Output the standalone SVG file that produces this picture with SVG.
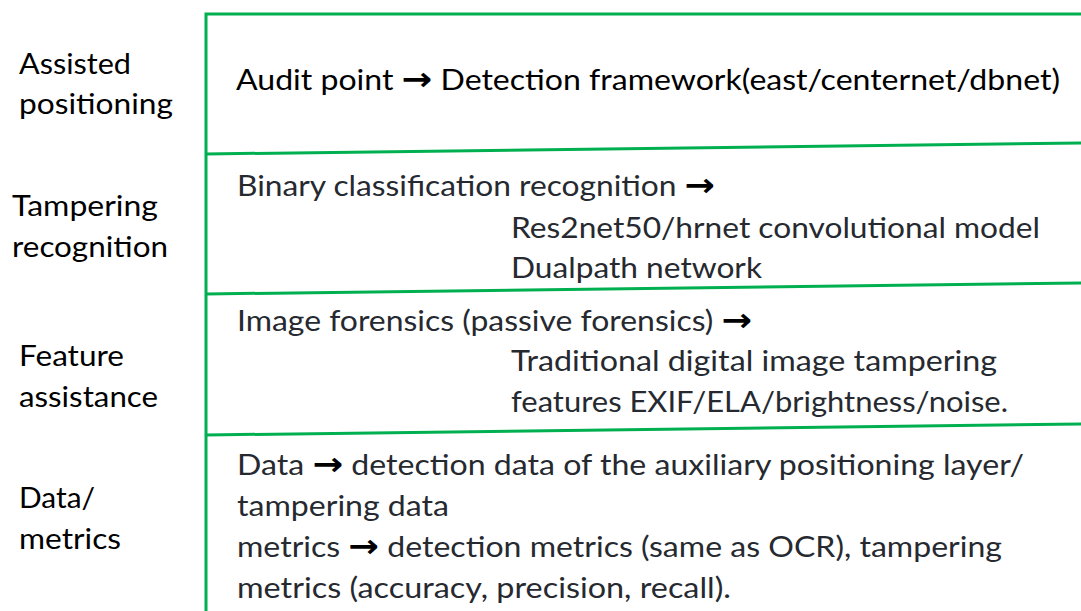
<svg xmlns="http://www.w3.org/2000/svg" width="1081" height="611" viewBox="0 0 1081 611">
<style>
text{font-family:Lato,"Liberation Sans",sans-serif;font-size:28px;}
.lab{fill:#000;}
.txt{fill:#262a30;}
.ar{fill:#000;font-family:"DejaVu Sans",sans-serif;font-weight:bold;font-size:32px;}
.ln{stroke:#00b050;stroke-width:3;fill:none;}
</style>
<rect width="1081" height="611" fill="#fff"/>
<g id="connectors">
<path class="ln" d="M206,611 V14 H1081"/>
<line class="ln" x1="206" y1="154" x2="1081" y2="143"/>
<line class="ln" x1="206" y1="294" x2="1081" y2="283"/>
<line class="ln" x1="206" y1="435" x2="1081" y2="424"/>
</g>
<g id="row-assisted">
<text class="lab" x="19" y="74" textLength="112" lengthAdjust="spacingAndGlyphs">Assisted</text>
<text class="lab" x="19" y="114" textLength="154" lengthAdjust="spacingAndGlyphs">positioning</text>
<text class="lab" x="236" y="90" textLength="824" lengthAdjust="spacingAndGlyphs">Audit point <tspan class="ar">→</tspan> Detection framework(east/centernet/dbnet)</text>
</g>
<g id="row-tampering">
<text class="lab" x="12" y="216" textLength="146" lengthAdjust="spacingAndGlyphs">Tampering</text>
<text class="lab" x="12" y="257" textLength="156" lengthAdjust="spacingAndGlyphs">recognition</text>
<text class="txt" x="237" y="196" textLength="478" lengthAdjust="spacingAndGlyphs">Binary classification recognition <tspan class="ar">→</tspan></text>
<text class="txt" x="511" y="238" textLength="529" lengthAdjust="spacingAndGlyphs">Res2net50/hrnet convolutional model</text>
<text class="txt" x="511" y="278" textLength="251" lengthAdjust="spacingAndGlyphs">Dualpath network</text>
</g>
<g id="row-feature">
<text class="lab" x="19" y="366" textLength="105" lengthAdjust="spacingAndGlyphs">Feature</text>
<text class="lab" x="19" y="407" textLength="139" lengthAdjust="spacingAndGlyphs">assistance</text>
<text class="txt" x="237" y="331" textLength="515" lengthAdjust="spacingAndGlyphs">Image forensics (passive forensics) <tspan class="ar">→</tspan></text>
<text class="txt" x="511" y="371" textLength="486" lengthAdjust="spacingAndGlyphs">Traditional digital image tampering</text>
<text class="txt" x="511" y="412" textLength="497" lengthAdjust="spacingAndGlyphs">features EXIF/ELA/brightness/noise.</text>
</g>
<g id="row-data">
<text class="lab" x="19" y="508" textLength="76" lengthAdjust="spacingAndGlyphs">Data/</text>
<text class="lab" x="19" y="549" textLength="102" lengthAdjust="spacingAndGlyphs">metrics</text>
<text class="txt" x="237" y="475" textLength="787" lengthAdjust="spacingAndGlyphs">Data <tspan class="ar">→</tspan> detection data of the auxiliary positioning layer/</text>
<text class="txt" x="237" y="516" textLength="212" lengthAdjust="spacingAndGlyphs">tampering data</text>
<text class="txt" x="237" y="557" textLength="765" lengthAdjust="spacingAndGlyphs">metrics <tspan class="ar">→</tspan> detection metrics (same as OCR), tampering</text>
<text class="txt" x="237" y="598" textLength="494" lengthAdjust="spacingAndGlyphs">metrics (accuracy, precision, recall).</text>
</g>
</svg>
